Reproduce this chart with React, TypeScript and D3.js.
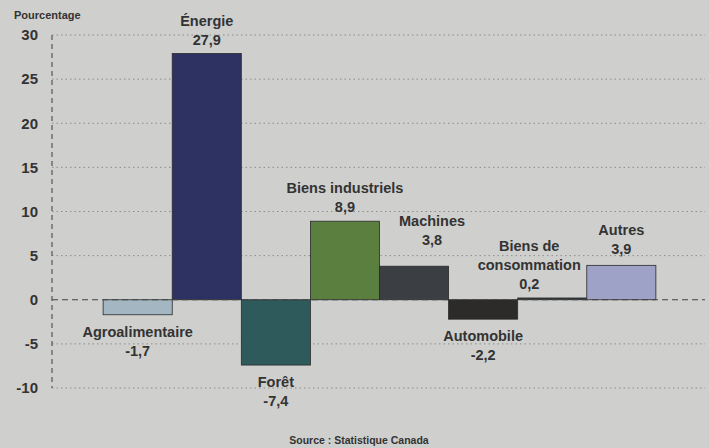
import React from "react";
import * as d3 from "d3";

const categories = ["Agroalimentaire", "Énergie", "Forêt", "Biens industriels", "Machines", "Automobile", "Biens de consommation", "Autres"];
const labelLines = [["Agroalimentaire"], ["Énergie"], ["Forêt"], ["Biens industriels"], ["Machines"], ["Automobile"], ["Biens de", "consommation"], ["Autres"]];
const values = [-1.7, 27.9, -7.4, 8.9, 3.8, -2.2, 0.2, 3.9];
const valueLabels = ["-1,7", "27,9", "-7,4", "8,9", "3,8", "-2,2", "0,2", "3,9"];
const colors = ["#a3b6c2", "#2d3263", "#2e5a5b", "#5b7f3f", "#3b3e42", "#2c2b2a", "#2f3b40", "#9ea2c6"];
const yTicks = [-10, -5, 0, 5, 10, 15, 20, 25, 30];
const yTitle = "Pourcentage";
const source = "Source : Statistique Canada";

// layout-only label adjustments (dx, extra dy) per bar
const labelDx = [0, 0, 0, 0, 18, 0, -23, 0];
const labelDy = [0, 0, 0, 0, -12, 0, 0, -2];

export default function App() {
  const W = 709, H = 448;
  const x = d3.scaleBand<string>().domain(categories).range([52, 707]).paddingInner(0).paddingOuter(0.74);
  const y = d3.scaleLinear().domain([-10, 30]).range([388, 35]);
  const font = "'Liberation Sans', Arial, sans-serif";
  const txt = "#333";
  return (
    <svg width={W} height={H} style={{ position: "absolute", left: 0, top: 0, background: "#cfcfcd" }} fontFamily={font}>
      <rect x={0} y={0} width={W} height={H} fill="#cfcfcd" />
      {yTicks.filter(t => t !== 0).map(t => (
        <line key={t} x1={52} x2={705} y1={y(t)} y2={y(t)} stroke="#8c8c8c" strokeWidth={1} strokeDasharray="1.5 3" />
      ))}
      <line x1={52} x2={52} y1={y(30)} y2={y(-10)} stroke="#555" strokeWidth={1.2} strokeDasharray="5 4" />
      {yTicks.map(t => (
        <text key={t} x={38} y={y(t)} dy="0.35em" textAnchor="end" fontSize={15} fontWeight="bold" fill={txt}>{t}</text>
      ))}
      <text x={14} y={19} fontSize={11} fontWeight="bold" fill={txt}>{yTitle}</text>
      {categories.map((c, i) => {
        const v = values[i];
        const y0 = y(Math.max(0, v)), y1 = y(Math.min(0, v));
        return (
          <rect key={c} x={x(c)!} y={y0} width={x.bandwidth()} height={Math.max(1.5, y1 - y0)} fill={colors[i]} stroke="#2a2a2a" strokeWidth={0.8} />
        );
      })}
      <line x1={52} x2={705} y1={y(0)} y2={y(0)} stroke="#444" strokeWidth={1.2} strokeDasharray="6 4" />
      {categories.map((c, i) => {
        const v = values[i];
        const cx = x(c)! + x.bandwidth() / 2 + labelDx[i];
        const lines = labelLines[i];
        const lh = 19;
        if (v >= 0) {
          const top = y(v) + labelDy[i];
          const valY = top - 14;
          return (
            <g key={c} fontWeight="bold" fontSize={14.5} fill={txt} textAnchor="middle">
              {lines.map((l, k) => (
                <text key={k} x={cx} y={valY - lh * (lines.length - k)} dy="0.35em">{l}</text>
              ))}
              <text x={cx} y={valY} dy="0.35em">{valueLabels[i]}</text>
            </g>
          );
        } else {
          const bot = y(v);
          const nameY = bot + 17;
          return (
            <g key={c} fontWeight="bold" fontSize={14.5} fill={txt} textAnchor="middle">
              {lines.map((l, k) => (
                <text key={k} x={cx} y={nameY + lh * k} dy="0.35em">{l}</text>
              ))}
              <text x={cx} y={nameY + lh * lines.length} dy="0.35em">{valueLabels[i]}</text>
            </g>
          );
        }
      })}
      <text x={359} y={440} dy="0.35em" textAnchor="middle" fontSize={10.5} fontWeight="bold" fill={txt}>{source}</text>
    </svg>
  );
}
